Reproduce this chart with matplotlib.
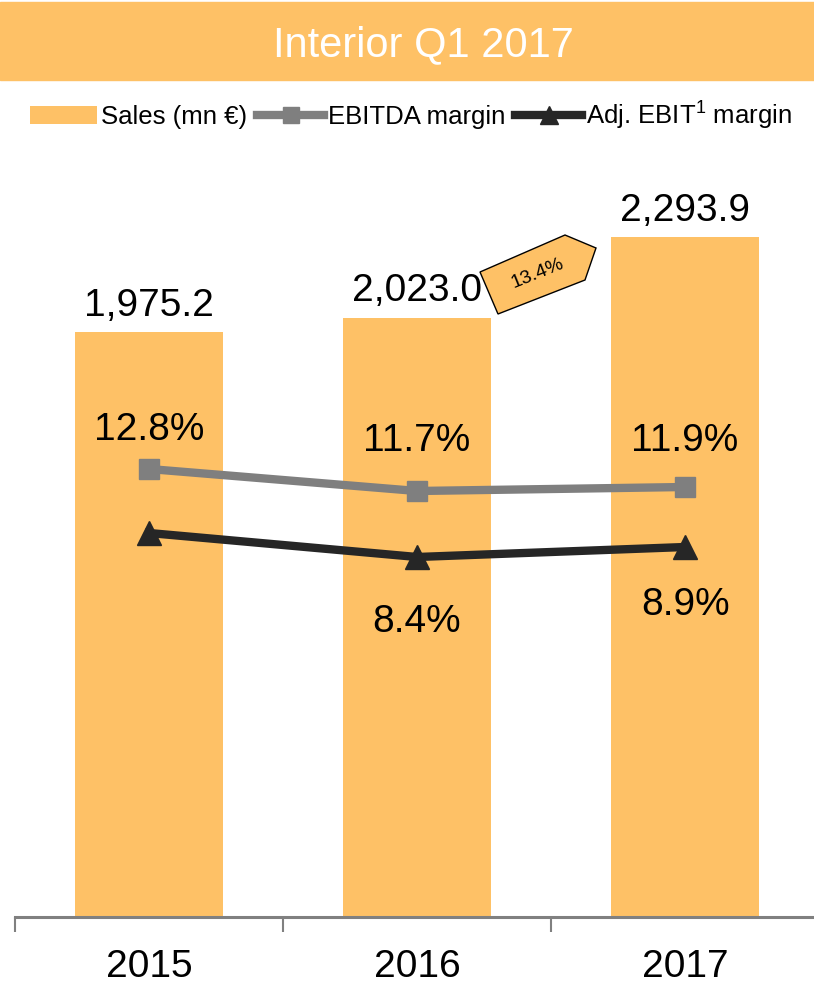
import matplotlib.pyplot as plt
from matplotlib.patches import Rectangle, Polygon

plt.rcParams['font.family'] = ['Liberation Sans', 'DejaVu Sans']
plt.rcParams['mathtext.fontset'] = 'custom'
plt.rcParams['mathtext.rm'] = 'Liberation Sans'

# data
years = ['2015', '2016', '2017']
sales = [1975.2, 2023.0, 2293.9]
ebitda_margin = [12.8, 11.7, 11.9]
ebit_margin = [9.6, 8.4, 8.9]
ebitda_labels = ['12.8%', '11.7%', '11.9%']
ebit_labels = [None, '8.4%', '8.9%']
sales_growth = 13.4

BAR = '#FEC166'
W, H = 814, 983

fig = plt.figure(figsize=(W / 100, H / 100), dpi=100)

# title banner
fig.patches.append(Rectangle((0, 1 - 80 / H), 1, 80 / H - 2 / H, transform=fig.transFigure,
                             color=BAR, zorder=0))
fig.text(423 / W, 1 - 45 / H, 'Interior Q1 2017', color='white', fontsize=30,
         ha='center', va='center')

ax = fig.add_axes([15 / W, 66 / H, 799 / W, 767 / H])
x = list(range(len(years)))
ax.bar(x, sales, width=0.553, color=BAR, label='Sales (mn €)', zorder=1)
ax.set_xlim(-0.5, 2.481)
ax.set_ylim(0, 2589)
for xi, v in zip(x, sales):
    ax.annotate(f'{v:,.1f}', (xi, v), xytext=(0, 6), textcoords='offset points',
                ha='center', va='bottom', fontsize=28)

ax2 = ax.twinx()
ax2.set_ylim(-9.6, 28.75)
ax2.plot(x, ebitda_margin, color='#7f7f7f', lw=6, marker='s', ms=15,
         label='EBITDA margin', zorder=3)
ax2.plot(x, ebit_margin, color='#262626', lw=6, marker='^', ms=17,
         label='Adj. EBIT$^1$ margin', zorder=3)
ebitda_off = [28, 36, 33]
for xi, v, t, o in zip(x, ebitda_margin, ebitda_labels, ebitda_off):
    ax2.annotate(t, (xi, v), xytext=(0, o), textcoords='offset points',
                 ha='center', va='center', fontsize=28)
ebit_off = [-46, -47, -42]
for xi, v, t, o in zip(x, ebit_margin, ebit_labels, ebit_off):
    if t:
        ax2.annotate(t, (xi, v), xytext=(0, o), textcoords='offset points',
                     ha='center', va='center', fontsize=28)

for a in (ax, ax2):
    for s in ('top', 'right', 'left'):
        a.spines[s].set_visible(False)
    a.set_yticks([])
ax2.spines['bottom'].set_visible(False)
ax.spines['bottom'].set_color('#808080')
ax.spines['bottom'].set_linewidth(2.2)

ax.set_xticks([-0.5, 0.5, 1.5])
ax.set_xticklabels([])
ax.tick_params(axis='x', which='major', length=11, width=1.5, color='#808080')
ax.set_xticks(x, minor=True)
ax.set_xticklabels(years, minor=True, fontsize=28)
ax.tick_params(axis='x', which='minor', length=0, pad=23)

# growth tag
tag = [(480, 272), (565, 235), (596, 248), (585, 280), (498, 314)]
tag_fig = [(px / W, 1 - py / H) for px, py in tag]
fig.patches.append(Polygon(tag_fig, closed=True, transform=fig.transFigure,
                           facecolor=BAR, edgecolor='black', lw=1, zorder=5))
fig.text(538 / W, 1 - 273 / H, f'{sales_growth:.1f}%', fontsize=14, rotation=22,
         ha='center', va='center', zorder=6)

h1, l1 = ax.get_legend_handles_labels()
h2, l2 = ax2.get_legend_handles_labels()
fig.legend(h1 + h2, l1 + l2, loc='center', bbox_to_anchor=(0.505, 1 - 115 / H),
           ncol=3, frameon=False, fontsize=18.5, handlelength=2.6, handletextpad=0.15,
           columnspacing=0.4, markerscale=0.75)

fig.savefig('out.png', dpi=100)
